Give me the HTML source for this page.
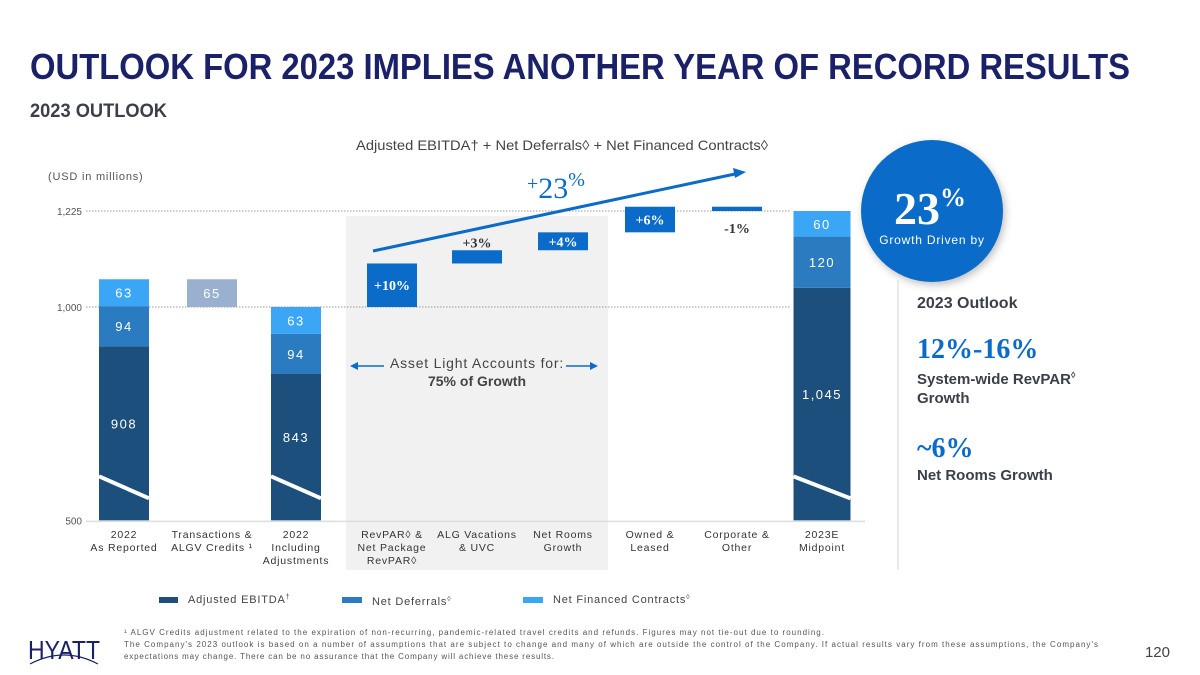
<!DOCTYPE html>
<html><head><meta charset="utf-8"><style>
body{margin:0;background:#fff;}
svg{display:block;font-family:"Liberation Sans",sans-serif;}
</style></head><body>
<svg id="c" width="1200" height="675" viewBox="0 0 1200 675" xmlns="http://www.w3.org/2000/svg">
<text x="30" y="79" font-size="36" font-weight="bold" fill="#1a2169" textLength="1100" lengthAdjust="spacingAndGlyphs">OUTLOOK FOR 2023 IMPLIES ANOTHER YEAR OF RECORD RESULTS</text>
<text x="30" y="117" font-size="19" font-weight="bold" fill="#3a3f4a" textLength="137" lengthAdjust="spacingAndGlyphs">2023 OUTLOOK</text>
<text x="356" y="150" font-size="14" fill="#444" textLength="412" lengthAdjust="spacingAndGlyphs">Adjusted EBITDA† + Net Deferrals◊ + Net Financed Contracts◊</text>
<text x="48" y="180" font-size="11" fill="#555" letter-spacing="0.8">(USD in millions)</text>
<rect x="346" y="216" width="262" height="354" fill="#f1f1f1"/>
<g id="grid"></g>
<g id="bars"></g>
<line x1="373" y1="251" x2="735" y2="174" stroke="#0a6bc9" stroke-width="3"/>
<polygon points="746,172 733,168 735,178" fill="#0a6bc9"/>
<text x="527" y="198" font-family="Liberation Serif,serif" font-size="30" fill="#0a6bc9"><tspan font-size="20" dy="-8">+</tspan><tspan dy="8">23</tspan><tspan font-size="20" dy="-12">%</tspan></text>
<text x="477" y="368" font-size="14" fill="#444" text-anchor="middle" letter-spacing="0.8">Asset Light Accounts for:</text>
<text x="477" y="386" font-size="14" font-weight="bold" fill="#444" text-anchor="middle">75% of Growth</text>
<line x1="384" y1="366" x2="356" y2="366" stroke="#0a6bc9" stroke-width="1.5"/><polygon points="350,366 358,362 358,370" fill="#0a6bc9"/>
<line x1="566" y1="366" x2="592" y2="366" stroke="#0a6bc9" stroke-width="1.5"/><polygon points="598,366 590,362 590,370" fill="#0a6bc9"/>
<g id="xlabels"></g>
<line x1="898" y1="280" x2="898" y2="570" stroke="#e4e4e4" stroke-width="1.5"/>
<circle cx="932" cy="211" r="71" fill="#0a6bc9" style="filter:drop-shadow(2px 3px 4px rgba(0,0,0,0.25))"/>
<text x="894" y="224" font-family="Liberation Serif,serif" font-size="46" font-weight="bold" fill="#fff">23<tspan font-size="26" dy="-18">%</tspan></text>
<text x="932" y="244" font-size="12" fill="#fff" text-anchor="middle" letter-spacing="0.8">Growth Driven by</text>
<text x="917" y="308" font-size="16" font-weight="bold" fill="#3a3f4a">2023 Outlook</text>
<text x="917" y="358" font-family="Liberation Serif,serif" font-size="28" font-weight="bold" fill="#0a6bc9">12%-16%</text>
<text x="917" y="384" font-size="15" font-weight="bold" fill="#3a3f4a">System-wide RevPAR<tspan font-size="9" dy="-6">◊</tspan></text>
<text x="917" y="403" font-size="15" font-weight="bold" fill="#3a3f4a">Growth</text>
<text x="917" y="457" font-family="Liberation Serif,serif" font-size="28" font-weight="bold" fill="#0a6bc9">~6%</text>
<text x="917" y="480" font-size="15" font-weight="bold" fill="#3a3f4a">Net Rooms Growth</text>
<g id="legend" font-size="11" fill="#444" letter-spacing="0.8">
<rect x="159" y="597" width="19" height="6" fill="#1c4f7c"/>
<text x="188" y="603">Adjusted EBITDA<tspan font-size="7" dy="-4">†</tspan></text>
<rect x="342" y="597" width="20" height="6" fill="#2a7bbf"/>
<text x="372" y="605">Net Deferrals<tspan font-size="7" dy="-4">◊</tspan></text>
<rect x="523" y="597" width="20" height="6" fill="#3aa6f5"/>
<text x="553" y="603">Net Financed Contracts<tspan font-size="7" dy="-4">◊</tspan></text>
</g>
<g>
<text x="28" y="659" font-size="26" fill="#1a2169" textLength="72" lengthAdjust="spacingAndGlyphs">HYATT</text>
<path d="M30 664 Q64 646 98 664" stroke="#1a2169" stroke-width="1.2" fill="none"/>
</g>
<g font-size="8" fill="#555">
<text x="124" y="635" textLength="700" lengthAdjust="spacing">¹ ALGV Credits adjustment related to the expiration of non-recurring, pandemic-related travel credits and refunds. Figures may not tie-out due to rounding.</text>
<text x="124" y="647" textLength="974" lengthAdjust="spacing">The Company's 2023 outlook is based on a number of assumptions that are subject to change and many of which are outside the control of the Company. If actual results vary from these assumptions, the Company's</text>
<text x="124" y="659" textLength="430" lengthAdjust="spacing">expectations may change. There can be no assurance that the Company will achieve these results.</text>
</g>
<text x="1170" y="657" font-size="15" fill="#444" text-anchor="end">120</text>
</svg>
<script>
const categories=[["2022","As Reported"],["Transactions &","ALGV Credits ¹"],["2022","Including","Adjustments"],["RevPAR◊ &","Net Package","RevPAR◊"],["ALG Vacations","& UVC"],["Net Rooms","Growth"],["Owned &","Leased"],["Corporate &","Other"],["2023E","Midpoint"]];
const ebitda=[908,null,843,null,null,null,null,null,1045];
const deferrals=[94,null,94,null,null,null,null,null,120];
const financed=[63,null,63,null,null,null,null,null,60];
const adjustment=[null,65,null,null,null,null,null,null,null];
const deltas=[null,null,null,102,31,42,60,-10,null];
const deltaLabels=[null,null,null,"+10%","+3%","+4%","+6%","-1%",null];
const ticks=[500,1000,1225];
const tickLabels=["500","1,000","1,225"];
const ns="http://www.w3.org/2000/svg";
const y=v=>307-(v-1000)*96/225;
const xc=[124,212,296,392,477,563,650,737,822];
function mk(t,a,p){const e=document.createElementNS(ns,t);for(const k in a)e.setAttribute(k,a[k]);p.appendChild(e);return e;}
const grid=document.getElementById('grid'),bars=document.getElementById('bars'),xl=document.getElementById('xlabels');
ticks.forEach((t,i)=>{
 if(t>500){const l=mk('line',{x1:86,x2:790,y1:y(t),y2:y(t),stroke:'#999','stroke-width':1,'stroke-dasharray':'1.5,1.5'},grid);
 
 }
 const tx=mk('text',{x:82,y:y(t)+4,'font-size':10,fill:'#555','text-anchor':'end'},grid);tx.textContent=tickLabels[i];
 
 
});
const ax=mk('line',{x1:86,x2:865,y1:y(500)+1,y2:y(500)+1,stroke:'#ddd','stroke-width':1.5},grid);


function lab(x,yy,s,col,sz,serif){const t=mk('text',{x:x,y:yy,'font-size':sz||13,fill:col||'#fff','text-anchor':'middle','letter-spacing':serif?0:1.5},bars);if(serif){t.setAttribute('font-family','Liberation Serif,serif');t.setAttribute('font-weight','bold');}t.textContent=s;
return t;}
categories.forEach((c,i)=>{
 const w=i===8?57:50,x0=xc[i]-w/2;
 if(ebitda[i]!=null){
  let base=500;
  [[ebitda[i],'#1c4f7c','ebitda'],[deferrals[i],'#2a7bbf','deferrals'],[financed[i],'#3aa6f5','financed']].forEach(([v,col,n])=>{
   const top=(n==='ebitda')?v:base+v;
   const r=mk('rect',{x:x0,y:y(top),width:w,height:y(base)-y(top),fill:col},bars);
   
   
   lab(xc[i],(y(top)+y(base))/2+(n==='ebitda'?-5:5),n==='ebitda'?v.toLocaleString('en-US'):String(v));
   base=top;
  });
  const br=mk('line',{x1:x0,y1:y(500)-44,x2:x0+w,y2:y(500)-22,stroke:'#fff','stroke-width':4},bars);
  
  
 }
 if(adjustment[i]!=null){
  const r=mk('rect',{x:x0,y:y(1000+adjustment[i]),width:w,height:y(1000)-y(1000+adjustment[i]),fill:'#9ab0cf'},bars);
  
  
  lab(xc[i],(y(1000)+y(1000+adjustment[i]))/2+5,String(adjustment[i]));
 }
 if(deltas[i]!=null){
  let start=1000;for(let j=0;j<i;j++)if(deltas[j]!=null)start+=deltas[j];
  const a=Math.max(start,start+deltas[i]),b=Math.min(start,start+deltas[i]);
  const r=mk('rect',{x:x0,y:y(a),width:w,height:y(b)-y(a),fill:'#0a6bc9'},bars);
  
  
  const h=y(b)-y(a);
  if(h>=14)lab(xc[i],(y(a)+y(b))/2+5,deltaLabels[i],'#fff',14,true);
  else lab(xc[i],deltas[i]<0?y(b)+22:y(a)-3,deltaLabels[i],'#333',14,true);
 }
 c.forEach((s,k)=>{const t=mk('text',{x:xc[i],y:538+k*13,'font-size':10.5,fill:'#333','text-anchor':'middle','letter-spacing':0.8},xl);t.textContent=s;
  
  });
});
</script>
</body></html>
